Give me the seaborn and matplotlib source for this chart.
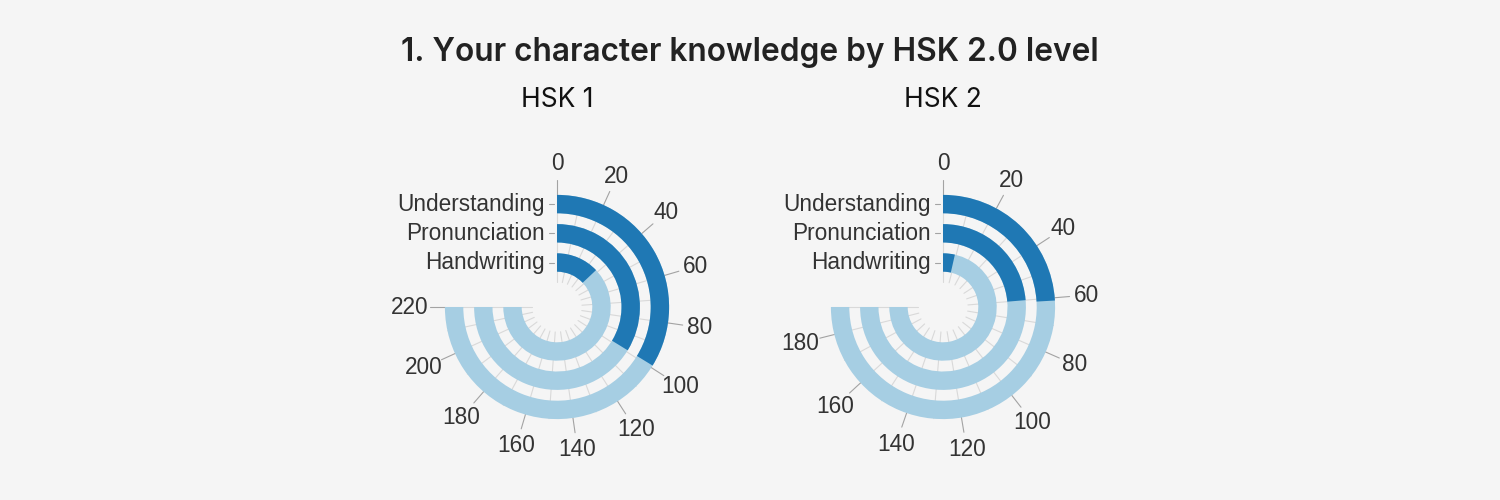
import numpy as np
import matplotlib
matplotlib.use("Agg")
import matplotlib.pyplot as plt
import seaborn as sns

# data
skills = ["Understanding", "Pronunciation", "Handwriting"]
levels = ["HSK 1", "HSK 2"]
hsk1_known = [99, 99, 38]
hsk2_known = [61, 60, 9]
axis_max = [220, 190]
title = "1. Your character knowledge by HSK 2.0 level"

sns.set_theme(style="white", rc={"figure.facecolor": "#f5f5f5",
                                 "axes.facecolor": "#f5f5f5"})
plt.rcParams["font.family"] = ["Liberation Sans", "DejaVu Sans"]
light, dark = sns.color_palette("Paired")[:2]

fig = plt.figure(figsize=(15, 5), dpi=100)

centres = [557, 943]       # pixel x of each radial chart
cy = 307                   # pixel y of chart centres
half = 150                 # half size of each polar axes in px
span = 1.5 * np.pi         # 270 degrees
band = 18.4
r_first = 35.3
r_step = 29.2

for level, known, vmax, cx in zip(levels, [hsk1_known, hsk2_known], axis_max, centres):
    ax = fig.add_axes([(cx - half) / 1500, (500 - cy - half) / 500,
                       2 * half / 1500, 2 * half / 500], projection="polar")
    ax.set_theta_zero_location("N")
    ax.set_theta_direction(-1)
    ax.set_ylim(0, half)
    ax.set_axis_off()

    def to_theta(v):
        return v / vmax * span

    # light grid every 10
    for v in range(0, vmax + 1, 10):
        t = to_theta(v)
        ax.plot([t, t], [25, 112], color="#d9d9d9", lw=0.8, zorder=1)

    # ticks + labels every 20
    for v in range(0, vmax + 1, 20):
        t = to_theta(v)
        ax.plot([t, t], [112, 127], color="#a3a3a3", lw=0.8, zorder=1)
        s = str(v)
        r_lab = 144 + 3 * (len(s) - 2) * abs(np.sin(t))
        ax.text(t, r_lab, s, ha="center", va="center", fontsize=16.3, color="#333333")

    # bars: Understanding outermost
    for j, skill in enumerate(skills):
        r0 = r_first + r_step * (len(skills) - 1 - j)
        ax.bar(0, band, width=span, bottom=r0, align="edge", color=light, lw=0, zorder=2)
        ax.bar(0, band, width=to_theta(known[j]), bottom=r0, align="edge",
               color=dark, lw=0, zorder=3)

        rc = r0 + band / 2
        # little tick mark and label left of the zero line
        xs = np.array([3.0, 8.0])
        ax.plot(2 * np.pi - np.arctan(xs / rc), np.hypot(xs, rc), color="#a3a3a3", lw=0.8)
        ax.text(2 * np.pi - np.arctan(12 / rc), np.hypot(12, rc), skill,
                ha="right", va="center", fontsize=16.3, color="#333333")

    fig.text(cx / 1500, 1 - 100 / 500, level, ha="center", va="center",
             fontsize=19, color="#111111", family=["Inter", "DejaVu Sans"])

fig.text(0.5, 1 - 52 / 500, title, ha="center", va="center", fontsize=22.8,
         fontweight="semibold", color="#222222", family=["Inter", "DejaVu Sans"])

fig.savefig("out.png", dpi=100, facecolor=fig.get_facecolor())
